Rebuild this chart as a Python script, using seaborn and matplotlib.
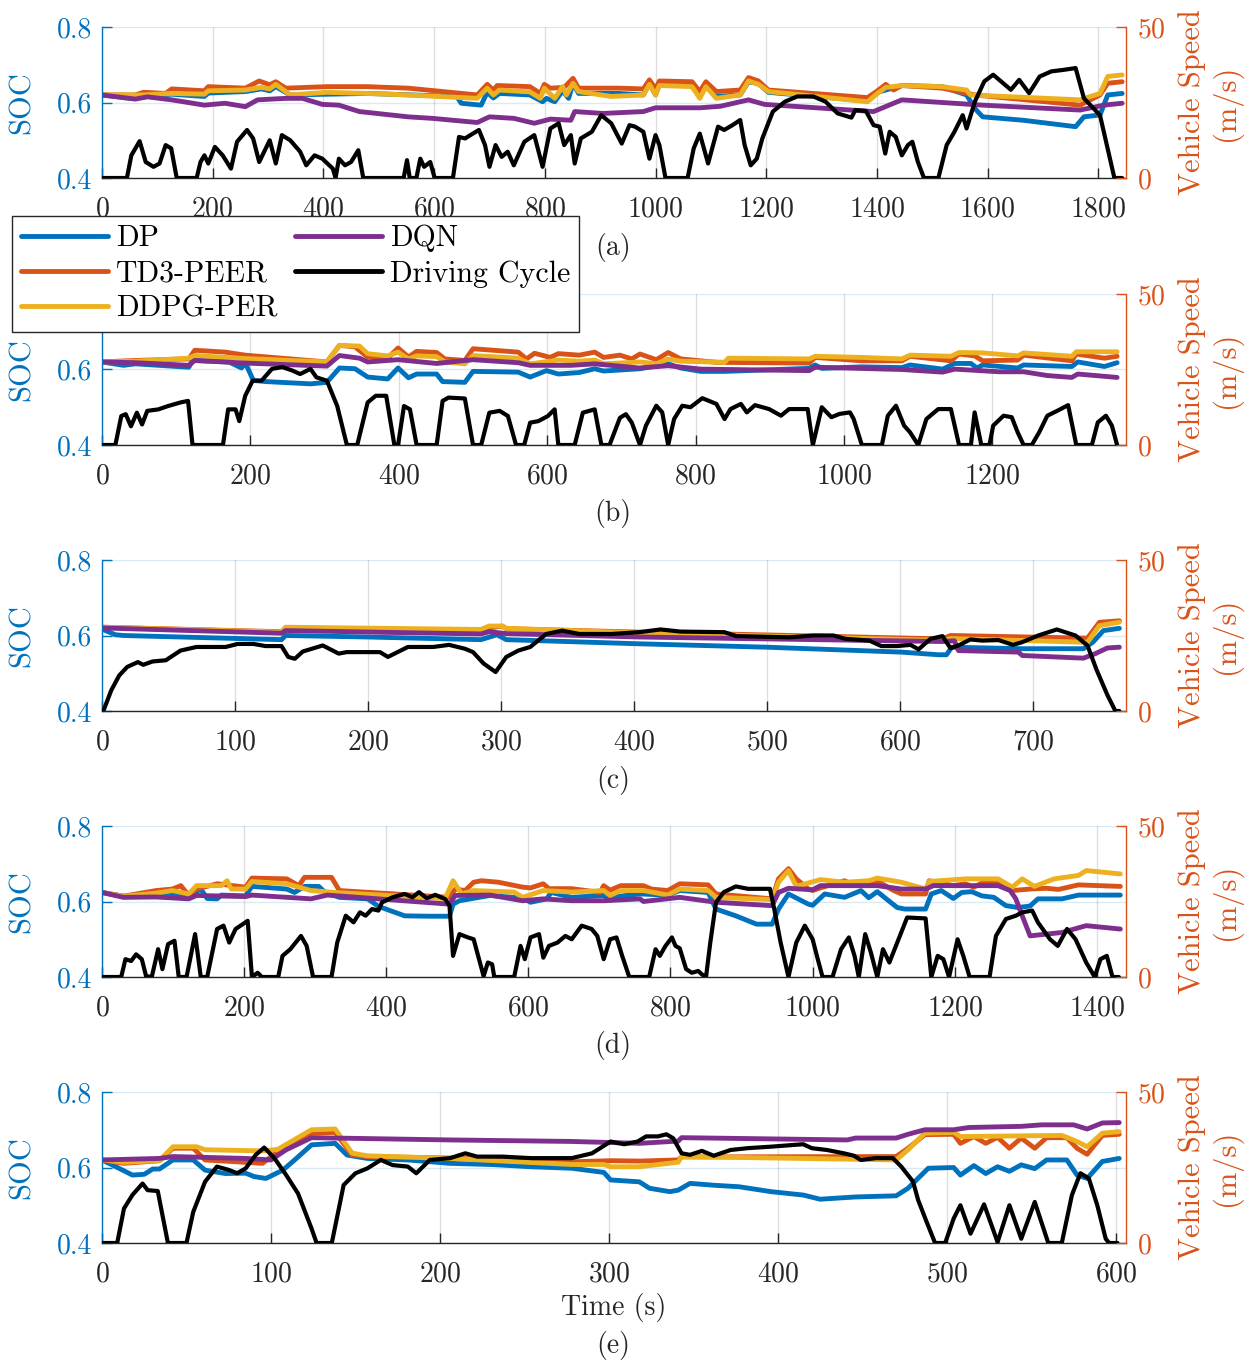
import numpy as np
import pandas as pd
import matplotlib
matplotlib.use("Agg")
import matplotlib.pyplot as plt
from matplotlib.lines import Line2D
from matplotlib.ticker import FormatStrFormatter
import seaborn as sns

# ---------------------------------------------------------------- data
# Panel (a)
A_T_DP = [0, 53, 75, 126, 185, 192, 259, 288, 303, 314, 340, 479, 641, 649, 685, 696, 707, 718, 773, 796, 803, 818, 832, 843, 851, 861, 934, 978, 989, 1000, 1007, 1066, 1080, 1091, 1110, 1153, 1168, 1186, 1204, 1383, 1401, 1445, 1518, 1562, 1577, 1591, 1664, 1759, 1774, 1803, 1817, 1843]
A_DP = [0.620, 0.611, 0.618, 0.622, 0.616, 0.625, 0.629, 0.636, 0.631, 0.642, 0.620, 0.624, 0.616, 0.598, 0.593, 0.627, 0.612, 0.624, 0.620, 0.602, 0.611, 0.602, 0.631, 0.611, 0.651, 0.624, 0.624, 0.620, 0.651, 0.620, 0.648, 0.645, 0.616, 0.645, 0.616, 0.620, 0.655, 0.650, 0.627, 0.604, 0.627, 0.645, 0.642, 0.620, 0.584, 0.562, 0.553, 0.536, 0.562, 0.567, 0.620, 0.624]
A_T_TD3 = [0, 60, 75, 115, 126, 185, 192, 259, 284, 303, 314, 332, 406, 479, 553, 678, 696, 707, 714, 773, 792, 799, 810, 835, 851, 861, 934, 978, 989, 1000, 1007, 1066, 1080, 1091, 1110, 1153, 1168, 1186, 1204, 1383, 1401, 1416, 1430, 1445, 1518, 1577, 1767, 1803, 1817, 1843]
A_TD3 = [0.620, 0.620, 0.627, 0.624, 0.636, 0.631, 0.642, 0.638, 0.657, 0.647, 0.655, 0.638, 0.642, 0.642, 0.638, 0.620, 0.648, 0.633, 0.645, 0.642, 0.624, 0.648, 0.638, 0.640, 0.664, 0.638, 0.638, 0.636, 0.660, 0.636, 0.657, 0.655, 0.629, 0.655, 0.629, 0.633, 0.666, 0.657, 0.633, 0.613, 0.631, 0.648, 0.633, 0.645, 0.638, 0.620, 0.593, 0.620, 0.651, 0.655]
A_T_DDPG = [0, 75, 126, 185, 192, 259, 288, 303, 314, 340, 406, 479, 553, 678, 696, 707, 718, 773, 792, 799, 818, 832, 839, 851, 861, 920, 978, 989, 1000, 1007, 1066, 1080, 1091, 1110, 1153, 1168, 1186, 1204, 1383, 1401, 1416, 1445, 1518, 1562, 1569, 1767, 1803, 1817, 1843]
A_DDPG = [0.620, 0.620, 0.624, 0.622, 0.631, 0.633, 0.640, 0.636, 0.648, 0.620, 0.627, 0.624, 0.620, 0.611, 0.638, 0.620, 0.633, 0.628, 0.611, 0.638, 0.611, 0.642, 0.620, 0.651, 0.629, 0.616, 0.620, 0.648, 0.620, 0.645, 0.642, 0.611, 0.642, 0.611, 0.620, 0.657, 0.648, 0.629, 0.602, 0.624, 0.640, 0.645, 0.642, 0.633, 0.620, 0.607, 0.624, 0.669, 0.673]
A_T_DQN = [0, 38, 60, 82, 126, 185, 222, 259, 281, 332, 362, 398, 428, 465, 553, 597, 678, 700, 744, 781, 810, 847, 854, 905, 978, 1000, 1080, 1117, 1168, 1197, 1394, 1445, 1591, 1767, 1810, 1843]
A_DQN = [0.620, 0.613, 0.609, 0.615, 0.607, 0.593, 0.598, 0.589, 0.607, 0.611, 0.611, 0.595, 0.593, 0.576, 0.562, 0.558, 0.547, 0.562, 0.558, 0.545, 0.556, 0.553, 0.576, 0.571, 0.576, 0.586, 0.586, 0.590, 0.607, 0.595, 0.576, 0.607, 0.593, 0.580, 0.593, 0.598]
A_T_CYC = [0, 45, 53, 68, 79, 93, 104, 115, 125, 135, 171, 178, 185, 192, 204, 218, 233, 244, 262, 273, 284, 303, 314, 325, 340, 358, 369, 384, 398, 417, 422, 428, 439, 450, 463, 472, 545, 551, 556, 568, 575, 582, 593, 601, 634, 645, 656, 670, 681, 692, 700, 711, 722, 733, 744, 763, 781, 796, 810, 825, 835, 847, 854, 865, 885, 902, 920, 939, 953, 963, 978, 989, 1000, 1007, 1018, 1058, 1069, 1080, 1095, 1113, 1124, 1139, 1153, 1161, 1172, 1183, 1193, 1212, 1234, 1256, 1285, 1307, 1329, 1354, 1361, 1380, 1394, 1405, 1415, 1423, 1434, 1445, 1456, 1464, 1474, 1485, 1511, 1526, 1540, 1555, 1562, 1577, 1594, 1610, 1628, 1642, 1657, 1675, 1694, 1715, 1737, 1759, 1774, 1803, 1829, 1843]
A_CYC = [0, 0, 7.5, 12.2, 5.3, 3.7, 4.8, 10.9, 9.8, 0, 0, 5.3, 7.5, 4.8, 10.3, 7.5, 3.1, 12.0, 15.9, 13.1, 5.3, 12.5, 4.8, 14.2, 12.5, 8.7, 4.2, 7.5, 6.4, 3.1, 0, 6.4, 4.2, 5.3, 9.2, 0, 0, 5.9, 0, 0, 6.4, 3.7, 5.3, 0, 0, 13.6, 13.1, 14.7, 15.9, 10.9, 3.7, 10.9, 7.0, 8.7, 4.2, 12.0, 14.2, 3.7, 16.4, 18.1, 10.9, 14.2, 4.8, 13.1, 15.3, 20.8, 18.1, 11.4, 17.5, 17.0, 15.3, 6.4, 14.2, 10.9, 0, 0, 9.8, 14.7, 4.8, 17.0, 15.9, 17.5, 19.2, 10.9, 4.2, 6.4, 13.1, 22.0, 25.3, 27.0, 27.0, 25.3, 21.4, 20.0, 22.5, 22.2, 17.5, 17.0, 8.1, 15.3, 13.6, 7.5, 10.9, 12.0, 5.3, 0, 0, 10.9, 15.3, 20.8, 16.4, 25.3, 32.0, 34.2, 31.4, 29.2, 32.5, 28.1, 33.6, 35.3, 35.8, 36.4, 26.4, 20.8, 0, 0]

# Panel (b)
B_T_DP = [0, 29, 45, 117, 122, 171, 188, 193, 204, 221, 281, 303, 320, 341, 358, 385, 399, 413, 424, 451, 459, 489, 500, 561, 577, 599, 615, 643, 664, 676, 725, 763, 780, 807, 839, 953, 961, 970, 1024, 1078, 1089, 1133, 1149, 1171, 1179, 1187, 1234, 1242, 1307, 1315, 1351, 1368]
B_DP = [0.620, 0.611, 0.615, 0.606, 0.624, 0.620, 0.604, 0.618, 0.571, 0.568, 0.562, 0.566, 0.604, 0.602, 0.580, 0.575, 0.604, 0.578, 0.588, 0.588, 0.568, 0.566, 0.595, 0.593, 0.580, 0.597, 0.588, 0.592, 0.602, 0.596, 0.602, 0.615, 0.604, 0.595, 0.595, 0.603, 0.612, 0.603, 0.607, 0.605, 0.612, 0.601, 0.616, 0.616, 0.604, 0.612, 0.604, 0.612, 0.608, 0.620, 0.608, 0.618]
B_T_TD3 = [0, 45, 117, 125, 166, 193, 303, 320, 341, 358, 385, 399, 413, 424, 451, 462, 489, 500, 561, 572, 583, 604, 615, 643, 664, 676, 698, 714, 725, 747, 763, 780, 828, 953, 961, 1024, 1078, 1089, 1144, 1155, 1176, 1187, 1234, 1242, 1307, 1313, 1351, 1368]
B_TD3 = [0.620, 0.624, 0.628, 0.651, 0.646, 0.638, 0.620, 0.664, 0.660, 0.633, 0.630, 0.657, 0.633, 0.648, 0.645, 0.628, 0.624, 0.655, 0.646, 0.628, 0.643, 0.632, 0.642, 0.638, 0.646, 0.632, 0.638, 0.628, 0.641, 0.626, 0.645, 0.628, 0.619, 0.617, 0.632, 0.623, 0.623, 0.635, 0.623, 0.641, 0.636, 0.623, 0.625, 0.638, 0.623, 0.641, 0.630, 0.635]
B_T_DDPG = [0, 45, 117, 125, 193, 303, 320, 347, 358, 385, 399, 413, 424, 451, 462, 489, 500, 561, 577, 604, 615, 643, 664, 676, 725, 747, 763, 780, 839, 844, 953, 961, 1024, 1078, 1089, 1144, 1155, 1187, 1234, 1242, 1307, 1313, 1368]
B_DDPG = [0.620, 0.622, 0.630, 0.637, 0.629, 0.620, 0.664, 0.662, 0.642, 0.636, 0.646, 0.628, 0.636, 0.634, 0.620, 0.615, 0.637, 0.630, 0.615, 0.622, 0.625, 0.622, 0.625, 0.615, 0.620, 0.615, 0.628, 0.622, 0.619, 0.630, 0.628, 0.635, 0.632, 0.628, 0.638, 0.635, 0.645, 0.644, 0.636, 0.644, 0.635, 0.647, 0.647]
B_T_DQN = [0, 45, 117, 125, 193, 303, 320, 347, 358, 399, 451, 500, 561, 577, 632, 664, 724, 763, 807, 953, 961, 1078, 1133, 1149, 1209, 1242, 1274, 1307, 1315, 1368]
B_DQN = [0.620, 0.618, 0.611, 0.624, 0.617, 0.609, 0.637, 0.630, 0.620, 0.626, 0.616, 0.626, 0.618, 0.611, 0.611, 0.615, 0.604, 0.610, 0.601, 0.597, 0.606, 0.600, 0.593, 0.601, 0.594, 0.594, 0.584, 0.579, 0.588, 0.579]
B_T_CYC = [0, 18, 26, 32, 39, 47, 54, 61, 76, 89, 106, 116, 122, 163, 170, 180, 185, 193, 203, 215, 229, 243, 256, 267, 281, 289, 303, 317, 330, 344, 358, 369, 383, 394, 399, 407, 415, 424, 451, 459, 467, 489, 500, 511, 522, 536, 547, 558, 569, 577, 588, 601, 610, 615, 637, 648, 664, 673, 684, 698, 706, 714, 725, 733, 747, 755, 763, 771, 782, 793, 809, 828, 839, 847, 861, 869, 880, 899, 915, 926, 951, 958, 970, 983, 994, 1008, 1013, 1024, 1051, 1059, 1070, 1081, 1089, 1100, 1111, 1127, 1144, 1155, 1171, 1176, 1185, 1196, 1201, 1215, 1226, 1234, 1242, 1253, 1263, 1274, 1288, 1302, 1313, 1334, 1342, 1353, 1361, 1368]
B_CYC = [0, 0, 9.6, 10.2, 6.2, 10.7, 6.8, 11.3, 11.8, 12.9, 14.1, 14.6, 0, 0, 11.8, 11.8, 7.9, 16.3, 21.3, 21.3, 25.2, 25.8, 24.7, 23.5, 25.2, 22.4, 21.3, 12.9, 0, 0, 14.1, 16.3, 16.3, 0, 0, 12.9, 11.8, 0, 0, 14.6, 15.7, 15.4, 0, 0, 10.7, 11.3, 9.6, 0, 0, 7.4, 7.9, 9.6, 11.8, 0, 0, 10.7, 11.8, 0, 0, 9.0, 10.2, 7.4, 0, 6.4, 13.0, 10.8, 0, 8.6, 13.0, 12.5, 15.5, 13.6, 8.6, 11.9, 13.6, 10.8, 13.2, 11.9, 9.7, 11.9, 11.9, 0, 12.5, 9.2, 10.3, 10.8, 8.6, 0, 0, 9.7, 13.0, 6.4, 4.2, 0, 8.6, 11.9, 11.9, 0, 0, 10.8, 0, 0, 6.4, 9.7, 9.2, 4.2, 0, 0, 4.2, 9.7, 11.4, 13.2, 0, 0, 7.5, 9.7, 6.4, 0]

# Panel (c)
C_T_DP = [0, 10, 16, 135, 138, 200, 285, 297, 304, 404, 500, 601, 629, 635, 639, 692, 738, 745, 753, 765]
C_DP = [0.617, 0.602, 0.600, 0.589, 0.600, 0.596, 0.589, 0.602, 0.589, 0.578, 0.569, 0.556, 0.549, 0.549, 0.569, 0.565, 0.565, 0.582, 0.613, 0.619]
C_T_TD3 = [0, 135, 138, 285, 291, 301, 304, 404, 632, 638, 741, 750, 765]
C_TD3 = [0.622, 0.610, 0.619, 0.613, 0.620, 0.625, 0.618, 0.609, 0.591, 0.600, 0.593, 0.635, 0.639]
C_T_DDPG = [0, 135, 138, 285, 291, 301, 304, 404, 632, 638, 741, 750, 765]
C_DDPG = [0.622, 0.609, 0.622, 0.616, 0.625, 0.625, 0.619, 0.607, 0.587, 0.592, 0.582, 0.626, 0.635]
C_T_DQN = [0, 135, 138, 285, 291, 304, 404, 632, 641, 644, 689, 692, 738, 747, 756, 765]
C_DQN = [0.620, 0.606, 0.613, 0.604, 0.610, 0.605, 0.596, 0.584, 0.586, 0.560, 0.556, 0.547, 0.540, 0.552, 0.567, 0.569]
C_T_CYC = [0, 1, 7, 13, 19, 27, 31, 38, 48, 59, 71, 93, 102, 114, 123, 135, 140, 145, 151, 166, 178, 184, 200, 209, 215, 230, 249, 261, 273, 279, 287, 296, 304, 313, 322, 334, 346, 359, 383, 404, 420, 435, 468, 477, 517, 535, 550, 559, 577, 586, 598, 608, 614, 623, 632, 638, 644, 653, 662, 674, 685, 692, 704, 718, 732, 741, 748, 756, 762, 765]
C_CYC = [0, 0, 6.9, 11.8, 14.6, 16.2, 15.3, 16.4, 16.8, 20.0, 21.2, 21.2, 22.2, 22.2, 21.5, 21.5, 17.9, 17.3, 19.7, 21.7, 19.0, 19.5, 19.5, 19.5, 17.9, 21.2, 21.2, 21.9, 20.6, 19.5, 15.7, 12.9, 17.9, 20.0, 21.2, 25.5, 26.6, 25.5, 25.5, 26.1, 27.0, 26.3, 26.1, 24.8, 24.4, 25.0, 25.0, 23.9, 23.3, 21.5, 21.5, 21.9, 20.4, 23.9, 24.8, 20.8, 21.7, 23.7, 23.3, 23.5, 21.9, 22.8, 25.0, 27.0, 25.0, 21.7, 13.5, 5.3, 0, 0]

# Panel (d)
D_T_DP = [0, 30, 70, 76, 99, 122, 139, 148, 162, 168, 202, 211, 260, 271, 285, 305, 314, 334, 374, 389, 426, 460, 489, 494, 503, 546, 592, 603, 626, 632, 661, 706, 715, 724, 757, 796, 813, 853, 864, 892, 921, 943, 952, 966, 994, 1000, 1017, 1045, 1068, 1079, 1091, 1119, 1130, 1159, 1167, 1181, 1198, 1210, 1224, 1238, 1255, 1272, 1289, 1306, 1317, 1351, 1374, 1433]
D_DP = [0.624, 0.614, 0.613, 0.623, 0.621, 0.614, 0.633, 0.608, 0.607, 0.617, 0.615, 0.640, 0.633, 0.624, 0.640, 0.640, 0.624, 0.611, 0.607, 0.587, 0.562, 0.561, 0.561, 0.593, 0.602, 0.616, 0.609, 0.598, 0.607, 0.624, 0.611, 0.616, 0.604, 0.613, 0.620, 0.617, 0.629, 0.624, 0.580, 0.562, 0.540, 0.540, 0.580, 0.620, 0.593, 0.590, 0.620, 0.611, 0.629, 0.610, 0.626, 0.584, 0.580, 0.580, 0.620, 0.629, 0.608, 0.624, 0.626, 0.615, 0.611, 0.589, 0.584, 0.588, 0.607, 0.607, 0.617, 0.617]
D_T_TD3 = [0, 30, 76, 99, 111, 122, 133, 162, 202, 211, 260, 277, 285, 323, 334, 489, 497, 511, 523, 534, 558, 592, 603, 621, 629, 661, 701, 706, 715, 730, 762, 773, 796, 813, 853, 864, 943, 952, 966, 977, 994, 1000, 1011, 1045, 1057, 1079, 1091, 1113, 1125, 1159, 1164, 1198, 1215, 1227, 1238, 1269, 1281, 1306, 1329, 1346, 1374, 1433]
D_TD3 = [0.624, 0.614, 0.629, 0.633, 0.642, 0.616, 0.633, 0.647, 0.638, 0.662, 0.660, 0.642, 0.664, 0.664, 0.629, 0.611, 0.633, 0.629, 0.651, 0.655, 0.651, 0.638, 0.636, 0.647, 0.634, 0.634, 0.624, 0.642, 0.630, 0.642, 0.642, 0.633, 0.629, 0.647, 0.644, 0.620, 0.607, 0.660, 0.687, 0.660, 0.633, 0.629, 0.636, 0.655, 0.644, 0.644, 0.655, 0.630, 0.620, 0.620, 0.655, 0.642, 0.647, 0.638, 0.649, 0.647, 0.629, 0.633, 0.635, 0.632, 0.644, 0.640]
D_T_DDPG = [0, 30, 76, 99, 122, 133, 168, 176, 182, 202, 211, 260, 294, 334, 483, 494, 506, 523, 580, 592, 621, 661, 706, 715, 730, 762, 796, 813, 853, 864, 943, 952, 966, 977, 1011, 1045, 1079, 1091, 1125, 1159, 1164, 1215, 1261, 1281, 1295, 1312, 1340, 1374, 1385, 1433]
D_DDPG = [0.624, 0.614, 0.622, 0.629, 0.620, 0.642, 0.642, 0.655, 0.633, 0.633, 0.653, 0.647, 0.629, 0.623, 0.608, 0.655, 0.620, 0.629, 0.625, 0.611, 0.629, 0.625, 0.629, 0.616, 0.629, 0.629, 0.617, 0.633, 0.629, 0.611, 0.605, 0.651, 0.682, 0.640, 0.658, 0.651, 0.655, 0.662, 0.651, 0.633, 0.653, 0.660, 0.660, 0.638, 0.660, 0.640, 0.660, 0.669, 0.682, 0.673]
D_T_DQN = [0, 30, 76, 122, 133, 202, 211, 294, 317, 489, 497, 546, 592, 621, 661, 706, 757, 762, 813, 864, 943, 952, 966, 1000, 1011, 1091, 1125, 1159, 1170, 1261, 1278, 1286, 1295, 1306, 1351, 1385, 1433]
D_DQN = [0.624, 0.611, 0.612, 0.607, 0.616, 0.613, 0.617, 0.607, 0.617, 0.593, 0.616, 0.617, 0.602, 0.607, 0.602, 0.602, 0.607, 0.600, 0.611, 0.598, 0.589, 0.624, 0.635, 0.631, 0.642, 0.642, 0.633, 0.633, 0.642, 0.642, 0.629, 0.607, 0.562, 0.509, 0.518, 0.536, 0.527]
D_T_CYC = [0, 27, 33, 41, 48, 56, 62, 70, 79, 85, 93, 102, 108, 119, 131, 139, 148, 162, 171, 179, 188, 205, 211, 219, 225, 248, 254, 265, 280, 288, 297, 323, 331, 343, 354, 363, 371, 380, 389, 394, 409, 426, 437, 446, 457, 469, 483, 489, 494, 503, 515, 523, 537, 543, 549, 552, 580, 589, 595, 603, 615, 621, 629, 641, 652, 661, 675, 689, 697, 706, 715, 724, 732, 742, 770, 779, 785, 793, 802, 807, 813, 822, 830, 839, 844, 850, 856, 864, 875, 892, 909, 926, 940, 946, 955, 966, 977, 989, 1000, 1006, 1014, 1028, 1040, 1051, 1059, 1065, 1074, 1082, 1091, 1099, 1108, 1119, 1133, 1159, 1167, 1176, 1184, 1192, 1204, 1212, 1221, 1249, 1258, 1272, 1286, 1295, 1309, 1317, 1334, 1345, 1358, 1370, 1385, 1397, 1405, 1414, 1422, 1431]
D_CYC = [0, 0, 5.9, 5.3, 7.5, 5.9, 0.3, 0, 9.2, 2.6, 10.9, 12.0, 0, 0, 14.2, 0, 0, 15.9, 17.0, 11.4, 15.9, 18.6, 0, 1.4, 0, 0, 7.0, 9.2, 13.6, 10.3, 0, 0, 11.4, 20.3, 18.1, 21.4, 20.3, 22.5, 22.0, 24.7, 26.4, 27.5, 26.4, 28.1, 26.1, 27.2, 25.8, 23.6, 7.0, 14.2, 13.1, 12.5, 0.3, 4.8, 4.2, 0, 0, 10.3, 5.9, 13.1, 14.2, 6.4, 10.3, 11.4, 13.6, 12.5, 17.0, 15.9, 13.6, 5.9, 12.5, 13.1, 7.0, 0, 0, 9.2, 7.0, 10.3, 13.1, 10.3, 9.5, 2.6, 1.4, 2.0, 0.9, 0, 11.4, 24.7, 28.1, 30.0, 29.2, 29.2, 29.2, 22.5, 11.4, 0, 11.4, 17.0, 12.5, 7.0, 0, 0, 9.2, 13.1, 7.0, 0, 14.2, 8.1, 0, 9.2, 4.8, 11.4, 19.7, 19.4, 0, 7.0, 5.9, 0, 12.5, 7.0, 0, 0, 13.6, 19.2, 20.3, 21.4, 22.0, 18.1, 12.5, 10.3, 15.9, 12.5, 4.8, 0, 5.9, 7.0, 0, 0]

# Panel (e)
E_T_DP = [0, 10, 18, 25, 30, 34, 42, 54, 61, 73, 85, 90, 97, 107, 114, 124, 138, 145, 157, 181, 206, 230, 254, 278, 297, 301, 318, 324, 336, 341, 348, 362, 377, 396, 415, 425, 446, 470, 477, 489, 504, 508, 516, 523, 530, 537, 544, 552, 559, 571, 577, 583, 592, 602]
E_DP = [0.620, 0.598, 0.580, 0.582, 0.596, 0.596, 0.620, 0.620, 0.593, 0.584, 0.585, 0.576, 0.571, 0.593, 0.620, 0.660, 0.664, 0.633, 0.624, 0.620, 0.611, 0.608, 0.602, 0.598, 0.587, 0.567, 0.562, 0.545, 0.536, 0.540, 0.558, 0.553, 0.549, 0.536, 0.527, 0.516, 0.522, 0.525, 0.545, 0.598, 0.600, 0.580, 0.605, 0.584, 0.602, 0.590, 0.607, 0.597, 0.620, 0.620, 0.580, 0.571, 0.616, 0.624]
E_T_TD3 = [0, 13, 34, 42, 54, 61, 95, 109, 124, 138, 148, 157, 206, 278, 301, 318, 341, 343, 470, 477, 487, 504, 508, 516, 523, 530, 537, 544, 552, 559, 571, 577, 583, 592, 602]
E_TD3 = [0.620, 0.611, 0.618, 0.651, 0.651, 0.620, 0.611, 0.660, 0.691, 0.693, 0.633, 0.629, 0.625, 0.615, 0.618, 0.617, 0.620, 0.628, 0.629, 0.651, 0.687, 0.688, 0.664, 0.682, 0.664, 0.680, 0.651, 0.678, 0.651, 0.679, 0.679, 0.651, 0.635, 0.685, 0.688]
E_T_DDPG = [0, 13, 34, 42, 56, 61, 95, 104, 124, 138, 148, 157, 206, 278, 297, 301, 318, 341, 343, 470, 477, 487, 504, 508, 568, 577, 583, 592, 602]
E_DDPG = [0.620, 0.614, 0.618, 0.655, 0.655, 0.647, 0.644, 0.648, 0.700, 0.702, 0.638, 0.631, 0.624, 0.608, 0.608, 0.602, 0.602, 0.614, 0.629, 0.620, 0.647, 0.691, 0.693, 0.682, 0.685, 0.669, 0.655, 0.691, 0.695]
E_T_DQN = [0, 34, 42, 85, 100, 109, 124, 206, 278, 318, 341, 343, 441, 446, 470, 477, 487, 504, 513, 544, 556, 575, 583, 592, 602]
E_DQN = [0.620, 0.624, 0.629, 0.624, 0.620, 0.647, 0.679, 0.673, 0.669, 0.664, 0.670, 0.679, 0.673, 0.678, 0.678, 0.688, 0.700, 0.700, 0.706, 0.709, 0.713, 0.713, 0.702, 0.718, 0.719]
E_T_CYC = [0, 9, 13, 18, 24, 27, 33, 39, 50, 54, 61, 68, 75, 80, 85, 91, 96, 102, 109, 116, 124, 127, 136, 143, 150, 157, 165, 172, 181, 186, 194, 206, 215, 222, 237, 254, 278, 290, 301, 309, 317, 322, 329, 334, 338, 343, 348, 355, 362, 372, 382, 396, 410, 415, 420, 429, 439, 445, 449, 458, 468, 473, 480, 483, 488, 493, 499, 504, 508, 514, 522, 530, 537, 544, 552, 560, 568, 574, 579, 584, 589, 594, 596, 601]
E_CYC = [0, 0, 11.4, 15.9, 19.7, 17.5, 17.2, 0, 0, 10.3, 20.3, 25.3, 24.2, 23.1, 24.7, 29.2, 31.6, 28.1, 22.5, 16.4, 4.8, 0, 0, 19.2, 23.1, 24.7, 27.5, 25.8, 25.3, 23.1, 27.5, 28.1, 29.7, 28.6, 28.6, 28.1, 28.1, 29.7, 33.6, 32.7, 33.6, 35.3, 35.3, 36.0, 34.7, 29.7, 29.2, 30.5, 28.9, 30.8, 31.4, 31.9, 32.5, 32.7, 31.4, 30.8, 29.7, 28.9, 27.5, 28.1, 28.1, 25.3, 20.3, 14.2, 7.0, 0, 0, 8.1, 12.5, 3.1, 12.8, 0.3, 12.5, 1.4, 13.6, 0, 0, 15.9, 23.1, 21.4, 12.5, 1.4, 0, 0]

METHODS = ["DP", "TD3-PEER", "DDPG-PER", "DQN"]
CYCLE_LABEL = "Driving Cycle"
PANEL_TAGS = ["(a)", "(b)", "(c)", "(d)", "(e)"]
X_LIMITS = [1850, 1380, 770, 1441, 606]
X_STEPS = [200, 200, 100, 200, 100]

# ---------------------------------------------------------------- style
COL_DP, COL_TD3, COL_DDPG, COL_DQN = "#0072BD", "#D95319", "#EDB120", "#7E2F8E"
COLORS = [COL_DP, COL_TD3, COL_DDPG, COL_DQN]
AX_DARK = "#262626"
SOC_LW, CYC_LW = 3.5, 3.0

sns.set_theme(style="white")
plt.rcParams["font.family"] = ["cmr10", "DejaVu Serif"]
plt.rcParams["mathtext.fontset"] = "cm"
plt.rcParams["axes.unicode_minus"] = False
plt.rcParams["axes.formatter.use_mathtext"] = True

panels = [
    ([(A_T_DP, A_DP), (A_T_TD3, A_TD3), (A_T_DDPG, A_DDPG), (A_T_DQN, A_DQN)], (A_T_CYC, A_CYC)),
    ([(B_T_DP, B_DP), (B_T_TD3, B_TD3), (B_T_DDPG, B_DDPG), (B_T_DQN, B_DQN)], (B_T_CYC, B_CYC)),
    ([(C_T_DP, C_DP), (C_T_TD3, C_TD3), (C_T_DDPG, C_DDPG), (C_T_DQN, C_DQN)], (C_T_CYC, C_CYC)),
    ([(D_T_DP, D_DP), (D_T_TD3, D_TD3), (D_T_DDPG, D_DDPG), (D_T_DQN, D_DQN)], (D_T_CYC, D_CYC)),
    ([(E_T_DP, E_DP), (E_T_TD3, E_TD3), (E_T_DDPG, E_DDPG), (E_T_DQN, E_DQN)], (E_T_CYC, E_CYC)),
]

W, H = 1252, 1364
fig = plt.figure(figsize=(W / 100, H / 100), dpi=100)

LEFT_PX, RIGHT_PX = 102, 1126
TOPS_PX = [27, 294, 560, 826, 1092]
AX_H_PX = 151
TAG_Y_PX = [247, 514, 780, 1046, 1345]

for i, (soc_series, cycle) in enumerate(panels):
    top = TOPS_PX[i]
    ax = fig.add_axes([LEFT_PX / W, 1 - (top + AX_H_PX) / H,
                       (RIGHT_PX - LEFT_PX) / W, AX_H_PX / H])
    for name, color, (tt, ss) in zip(METHODS, COLORS, soc_series):
        df = pd.DataFrame({"Time": tt, "SOC": ss})
        sns.lineplot(data=df, x="Time", y="SOC", ax=ax, color=color,
                     linewidth=SOC_LW, estimator=None, sort=False, legend=False)

    ax2 = ax.twinx()
    dfc = pd.DataFrame({"Time": cycle[0], "Speed": cycle[1]})
    sns.lineplot(data=dfc, x="Time", y="Speed", ax=ax2, color="black",
                 linewidth=CYC_LW, estimator=None, sort=False, legend=False)

    # limits and ticks
    ax.set_xlim(0, X_LIMITS[i])
    ax.set_ylim(0.4, 0.8)
    ax2.set_ylim(0, 50)
    ax.set_xticks(np.arange(0, X_LIMITS[i] + 1, X_STEPS[i]))
    ax.set_yticks([0.4, 0.6, 0.8])
    ax2.set_yticks([0, 50])
    ax.yaxis.set_major_formatter(FormatStrFormatter("%.1f"))

    # grid
    ax.set_axisbelow(True)
    ax.grid(axis="x", color=AX_DARK, alpha=0.15, linewidth=1.0)
    ax.grid(axis="y", color=COL_DP, alpha=0.15, linewidth=1.0)

    # spines
    for sp in ["top", "right"]:
        ax.spines[sp].set_visible(False)
    for sp in ["top", "left", "bottom"]:
        ax2.spines[sp].set_visible(False)
    ax.spines["left"].set_color(COL_DP)
    ax.spines["bottom"].set_color(AX_DARK)
    ax2.spines["right"].set_color(COL_TD3)
    for s in (ax.spines["left"], ax.spines["bottom"], ax2.spines["right"]):
        s.set_linewidth(1.0)

    ax.tick_params(axis="x", direction="in", length=7, width=1, colors=AX_DARK,
                   labelsize=20, pad=13, top=False, bottom=True)
    ax.tick_params(axis="y", direction="in", length=7, width=1, colors=COL_DP,
                   labelsize=20, pad=7, left=True, right=False)
    ax2.tick_params(axis="y", direction="in", length=7, width=1, colors=COL_TD3,
                    labelsize=20, pad=8, right=True, left=False)

    # axis labels
    ax.set_xlabel("")
    ax.set_ylabel("SOC", color=COL_DP, fontsize=22)
    ax.yaxis.set_label_coords(-0.078, 0.5)
    ax.yaxis.label.set_verticalalignment("center")
    ax2.set_ylabel("Vehicle Speed\n(m/s)", color=COL_TD3, fontsize=22,
                   multialignment="center")
    ax2.yaxis.set_label_coords(1.082, 0.5)
    ax2.yaxis.label.set_verticalalignment("center")
    ax2.yaxis.label.set_rotation(90)

    if i == len(panels) - 1:
        ax.set_xlabel("Time (s)", fontsize=20, color=AX_DARK)
        ax.xaxis.set_label_coords(0.5, -(1307 - (top + AX_H_PX)) / AX_H_PX)
        ax.xaxis.label.set_verticalalignment("center")

    fig.text(613 / W, 1 - TAG_Y_PX[i] / H, PANEL_TAGS[i], ha="center",
             va="center", fontsize=20, color=AX_DARK)

# legend
handles = [Line2D([], [], color=c, linewidth=SOC_LW) for c in COLORS]
handles.append(Line2D([], [], color="black", linewidth=SOC_LW))
labels = METHODS + [CYCLE_LABEL]
leg = fig.legend(handles, labels, ncol=2, loc="upper left",
                 bbox_to_anchor=(12 / W, 1 - 216 / H), bbox_transform=fig.transFigure,
                 frameon=True, fancybox=False, edgecolor=AX_DARK, framealpha=1.0,
                 fontsize=21.5, handlelength=2.9, handletextpad=0.27,
                 columnspacing=0.6, labelspacing=0.26, borderpad=0.3,
                 borderaxespad=0)
leg.get_frame().set_linewidth(1.0)
for txt in leg.get_texts():
    txt.set_color("black")

fig.savefig("out.png", dpi=100)
